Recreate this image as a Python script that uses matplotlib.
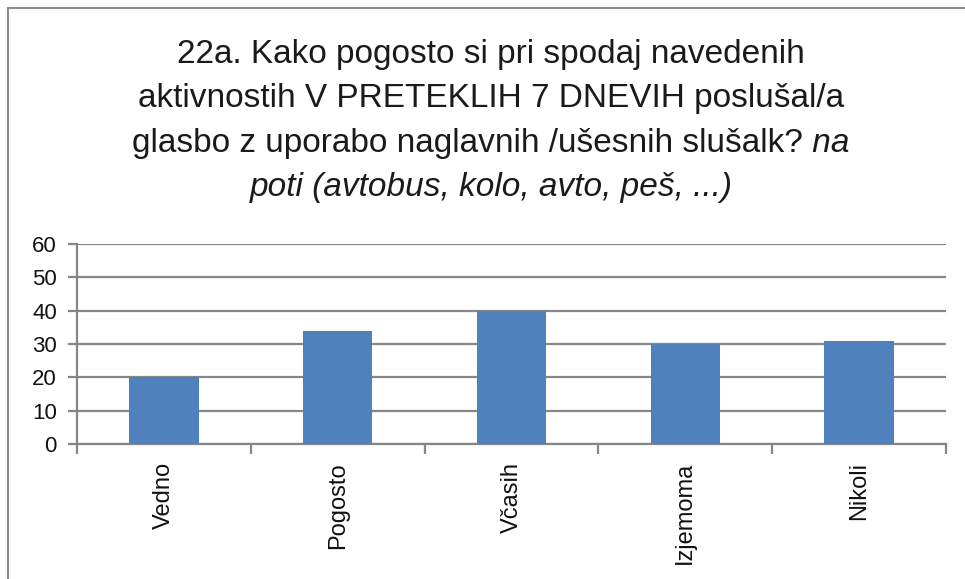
import matplotlib
matplotlib.use('Agg')
import matplotlib.pyplot as plt
from matplotlib.lines import Line2D

plt.rcParams['font.family'] = ['Liberation Sans', 'DejaVu Sans']

# ---------------------------------------------------------------
# podatki
# ---------------------------------------------------------------
categories = ['Vedno', 'Pogosto', 'Včasih', 'Izjemoma', 'Nikoli']
values = [20, 34, 40, 30, 31]
y_ticks = [0, 10, 20, 30, 40, 50, 60]

title_lines = [
    '22a. Kako pogosto si pri spodaj navedenih',
    'aktivnostih V PRETEKLIH 7 DNEVIH poslušal/a',
    'glasbo z uporabo naglavnih /ušesnih slušalk?',
]
title_italic_tail = ' na'
title_italic_line = 'poti (avtobus, kolo, avto, peš, ...)'

W, H = 965, 579
fig = plt.figure(figsize=(W / 100, H / 100), dpi=100)
ax = fig.add_axes([77 / W, 1 - 444 / H, 869 / W, 200 / H])

bar_color = '#4F81BD'
grid_color = '#868686'

x = list(range(len(categories)))
ax.bar(x, values, width=0.4, color=bar_color, zorder=3)

ax.set_xlim(-0.5, len(categories) - 0.5)
ax.set_ylim(0, 60)
ax.set_yticks(y_ticks)
ax.yaxis.grid(True, color=grid_color, linewidth=1.6, zorder=0)
ax.set_axisbelow(True)

for side in ['top', 'right']:
    ax.spines[side].set_visible(False)
for side in ['left', 'bottom']:
    ax.spines[side].set_color(grid_color)
    ax.spines[side].set_linewidth(1.6)

ax.tick_params(axis='y', length=6.5, width=1.6, color=grid_color,
               pad=8, labelsize=16, labelcolor='#111111')

ax.set_xticks(x)
ax.set_xticklabels(categories, rotation=90, fontsize=17, va='top', ha='center')
ax.set_xticks([i - 0.5 for i in range(len(categories) + 1)], minor=True)
ax.tick_params(axis='x', which='major', length=0, pad=13, labelcolor='#111111')
ax.tick_params(axis='x', which='minor', length=7, width=1.6, color=grid_color)

# naslov (zadnji del je v ležeči pisavi)
fs_title = 24
cx = 491
baselines = [63, 107, 152, 196]
for line, yb in zip(title_lines[:2], baselines[:2]):
    fig.text(cx / W, 1 - yb / H, line, fontsize=fs_title, ha='center',
             va='baseline', color='#1a1a1a')

renderer = fig.canvas.get_renderer()
t_norm = fig.text(0, 1 - baselines[2] / H, title_lines[2], fontsize=fs_title,
                  ha='left', va='baseline', color='#1a1a1a')
t_ital = fig.text(0, 1 - baselines[2] / H, title_italic_tail, fontsize=fs_title,
                  ha='left', va='baseline', style='italic', color='#1a1a1a')
w1 = t_norm.get_window_extent(renderer).width
w2 = t_ital.get_window_extent(renderer).width
x0 = cx - (w1 + w2) / 2
t_norm.set_x(x0 / W)
t_ital.set_x((x0 + w1) / W)

fig.text(cx / W, 1 - baselines[3] / H, title_italic_line, fontsize=fs_title,
         ha='center', va='baseline', style='italic', color='#1a1a1a')

# okvir grafikona
fig.add_artist(Line2D([8 / W, 8 / W], [0, 1 - 8 / H], transform=fig.transFigure,
                      color='#8c8c8c', linewidth=1.5))
fig.add_artist(Line2D([8 / W, 1], [1 - 8 / H, 1 - 8 / H], transform=fig.transFigure,
                      color='#8c8c8c', linewidth=1.5))

fig.savefig('out.png', dpi=100)
